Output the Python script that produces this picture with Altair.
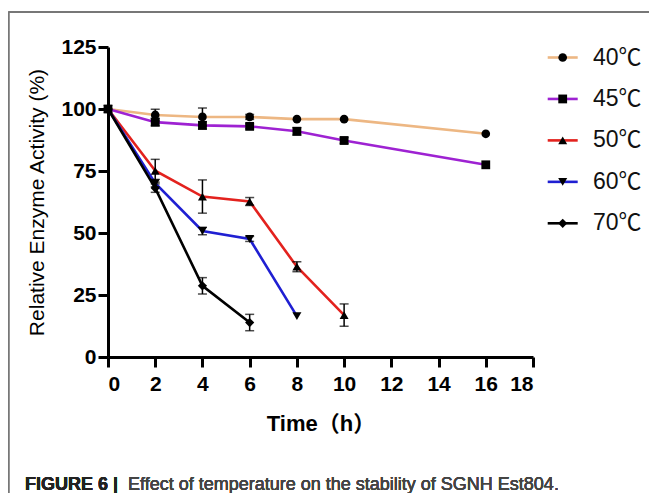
import altair as alt
import pandas as pd

series = ["40℃", "45℃", "50℃", "60℃", "70℃"]
colors = ["#EDB783", "#9E22D2", "#E3221E", "#1F1FD2", "#000000"]
shapes = ["circle", "square", "triangle-up", "triangle-down", "diamond"]
sizes = [75, 85, 100, 100, 50]

times = {
    "40℃": [0, 2, 4, 6, 8, 10, 16],
    "45℃": [0, 2, 4, 6, 8, 10, 16],
    "50℃": [0, 2, 4, 6, 8, 10],
    "60℃": [0, 2, 4, 6, 8],
    "70℃": [0, 2, 4, 6],
}
values = {
    "40℃": [100, 97.6, 96.8, 96.8, 95.9, 95.9, 90.0],
    "45℃": [100, 94.7, 93.4, 93.0, 91.0, 87.3, 77.5],
    "50℃": [100, 75.1, 64.7, 62.7, 36.4, 16.9],
    "60℃": [100, 70.1, 50.8, 47.6, 16.5],
    "70℃": [100, 68.1, 28.7, 13.9],
}
errors = {
    "40℃": [0, 2.3, 3.6, 1.0, 0, 0, 0],
    "45℃": [0, 1.5, 1.5, 1.0, 1.5, 1.2, 0],
    "50℃": [0, 4.6, 6.7, 1.6, 2.0, 4.5],
    "60℃": [0, 1.5, 1.5, 1.0, 0],
    "70℃": [0, 1.7, 3.3, 3.3],
}

x_ticks = [0, 2, 4, 6, 8, 10, 12, 14, 16, 18]
y_ticks = [0, 25, 50, 75, 100, 125]
Y_TITLE = "Relative Enzyme Activity (%)"
X_TITLE = "Time（h）"

rows = []
for s in series:
    for t, v, e in zip(times[s], values[s], errors[s]):
        rows.append({"series": s, "t": t, "v": v, "lo": v - e, "hi": v + e, "e": e})
df = pd.DataFrame(rows)
df_err = df[df["e"] > 0]
legend_df = pd.DataFrame({"series": series})

FONT = "Liberation Sans, Arial, Noto Sans CJK SC"

x_scale = alt.Scale(domain=[0, 18], nice=False)
y_scale = alt.Scale(domain=[0, 125], nice=False)
color_scale = alt.Scale(domain=series, range=colors)
shape_scale = alt.Scale(domain=series, range=shapes)
size_scale = alt.Scale(domain=series, range=sizes)

base = alt.Chart(df)

lines = base.mark_line(strokeWidth=2.6, clip=False).encode(
    x=alt.X("t:Q", scale=x_scale, title=X_TITLE,
            axis=alt.Axis(values=x_ticks, grid=False,
                          labelFont=FONT, labelFontSize=21, labelFontWeight="bold",
                          labelColor="black", labelPadding=6,
                          titleFont=FONT, titleFontSize=22, titleFontWeight="bold",
                          titleColor="black", titlePadding=19,
                          domainColor="black", domainWidth=3, tickColor="black",
                          tickWidth=3, tickSize=10)),
    y=alt.Y("v:Q", scale=y_scale, title=Y_TITLE,
            axis=alt.Axis(values=y_ticks, grid=False,
                          labelFont=FONT, labelFontSize=21, labelFontWeight="bold",
                          labelColor="black", labelPadding=2,
                          titleFont=FONT, titleFontSize=21, titleFontWeight="normal",
                          titleColor="black", titlePadding=13,
                          domainColor="black", domainWidth=3, tickColor="black",
                          tickWidth=3, tickSize=10)),
    color=alt.Color("series:N", scale=color_scale, legend=None),
    detail="series:N",
    order="t:Q",
)

errbars = alt.Chart(df_err).mark_errorbar(
    color="black", ticks={"size": 9, "thickness": 1.5}, rule={"strokeWidth": 1.5}
).encode(
    x=alt.X("t:Q", scale=x_scale, title=X_TITLE),
    y=alt.Y("lo:Q", scale=y_scale, title=Y_TITLE),
    y2="hi:Q",
)

points = base.mark_point(filled=True, opacity=1, color="black", strokeWidth=0).encode(
    x=alt.X("t:Q", scale=x_scale, title=X_TITLE),
    y=alt.Y("v:Q", scale=y_scale, title=Y_TITLE),
    shape=alt.Shape("series:N", scale=shape_scale, legend=None),
    size=alt.Size("series:N", scale=size_scale, legend=None),
)

leg_y = alt.Y("series:N", scale=alt.Scale(type="point", domain=series, range=[10.5, 176.3], padding=0),
              axis=None)
leg_base = alt.Chart(legend_df)
leg_lines = leg_base.mark_rule(strokeWidth=2.6).encode(
    x=alt.value(439.7), x2=alt.value(469.7), y=leg_y,
    color=alt.Color("series:N", scale=color_scale, legend=None),
)
leg_pts = leg_base.mark_point(filled=True, opacity=1, color="black", strokeWidth=0).encode(
    x=alt.value(454.7), y=leg_y,
    shape=alt.Shape("series:N", scale=shape_scale, legend=None),
    size=alt.Size("series:N", scale=size_scale, legend=None),
)
leg_text = leg_base.mark_text(align="left", baseline="middle", font=FONT, fontSize=23,
                              color="#111111").encode(
    x=alt.value(485), y=leg_y, text="series:N",
)

frame_top = leg_base.mark_rule(color="#777777", strokeWidth=1.5).encode(
    x=alt.value(-99.5), x2=alt.value(545), y=alt.value(-35),
)
frame_left = leg_base.mark_rule(color="#777777", strokeWidth=1.5).encode(
    x=alt.value(-99.5), y=alt.value(-35), y2=alt.value(460),
)

cap_bold = leg_base.mark_text(align="left", baseline="middle", font=FONT, fontSize=18,
                              fontWeight="bold", color="#222222").encode(
    x=alt.value(-83), y=alt.value(438), text=alt.value("FIGURE 6 |"),
)
cap_reg = leg_base.mark_text(align="left", baseline="middle", font=FONT, fontSize=18,
                             color="#444444").encode(
    x=alt.value(20), y=alt.value(438),
    text=alt.value("Effect of temperature on the stability of SGNH Est804."),
)

data_layer = alt.layer(lines, errbars, points)
deco_layer = alt.layer(leg_lines, leg_pts, leg_text, frame_top, frame_left, cap_bold, cap_reg)

chart = alt.layer(data_layer, deco_layer).resolve_scale(y="independent").properties(
    width=425, height=310,
    autosize=alt.AutoSizeParams(type="none"),
    padding={"left": 100, "top": 39, "right": 116, "bottom": 136},
).configure_view(stroke=None)

chart.save("out.html", embed_options={"renderer": "svg", "actions": False})
